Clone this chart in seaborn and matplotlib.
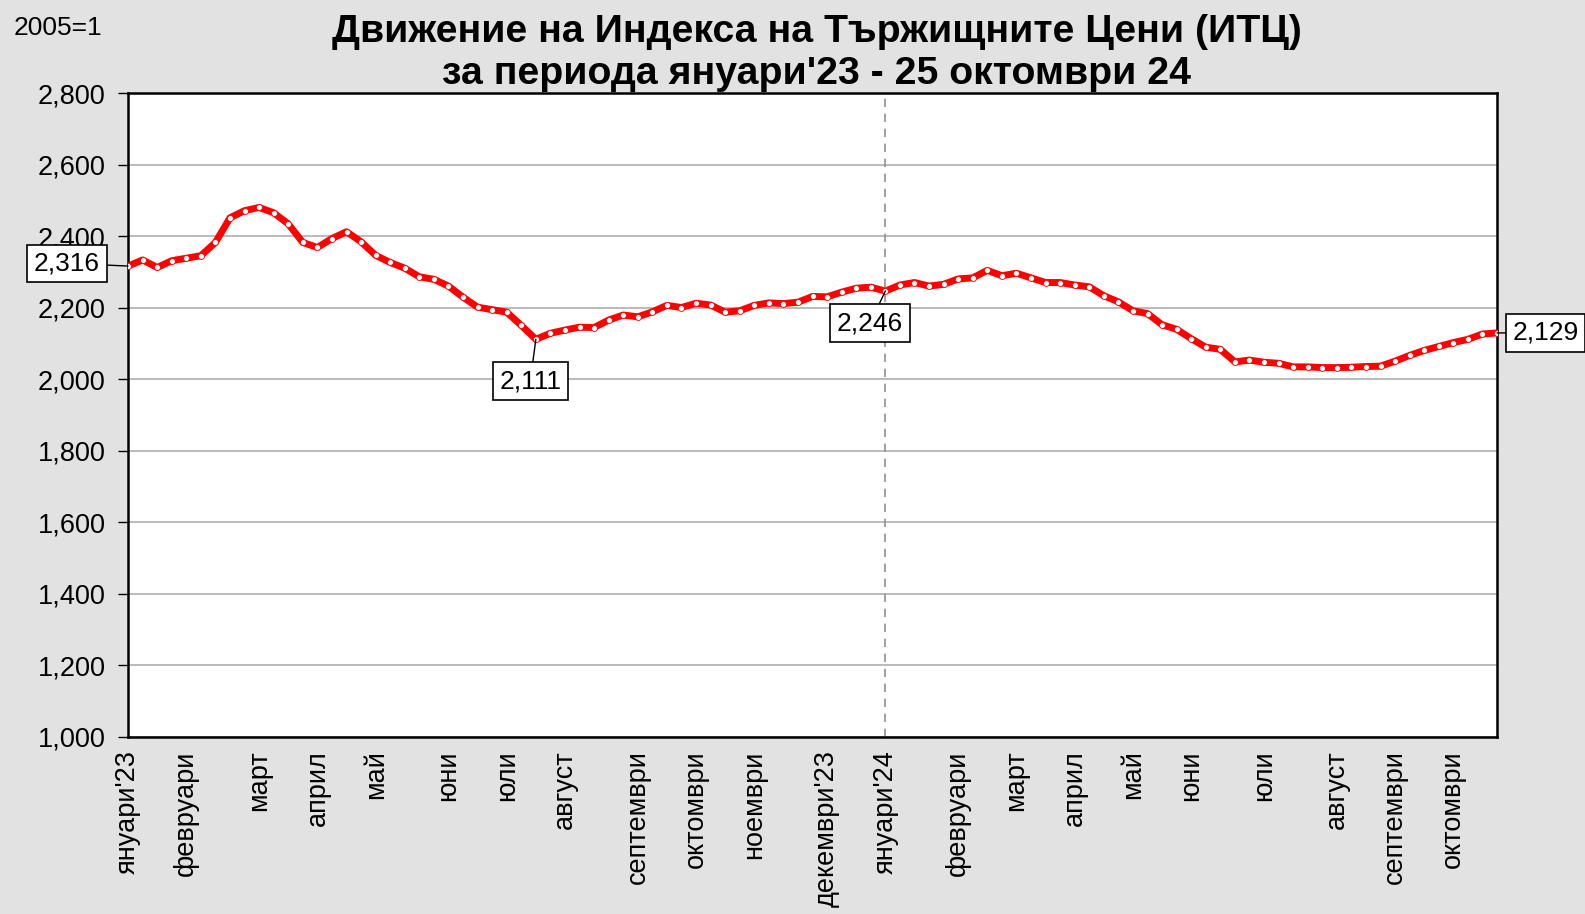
import numpy as np
import pandas as pd
import matplotlib
matplotlib.use("Agg")
import matplotlib.pyplot as plt
import seaborn as sns

# Седмични стойности на ИТЦ (2005=1), януари'23 - 25 октомври'24
itc_values = [
    2316, 2333, 2312, 2331, 2338, 2345, 2382, 2451, 2471, 2480,
    2465, 2434, 2382, 2368, 2393, 2412, 2384, 2346, 2326, 2310,
    2286, 2279, 2260, 2229, 2201, 2194, 2187, 2150, 2111, 2128,
    2137, 2145, 2144, 2165, 2179, 2174, 2188, 2206, 2200, 2212,
    2207, 2187, 2191, 2206, 2213, 2211, 2215, 2231, 2230, 2243,
    2254, 2257, 2246, 2263, 2270, 2260, 2265, 2280, 2283, 2304,
    2289, 2296, 2283, 2270, 2270, 2263, 2258, 2233, 2216, 2191,
    2183, 2152, 2139, 2113, 2089, 2083, 2048, 2053, 2047, 2044,
    2034, 2034, 2032, 2032, 2033, 2035, 2036, 2050, 2066, 2080,
    2091, 2102, 2111, 2126, 2129,
]
week = list(range(len(itc_values)))

month_pos = [0, 4, 9, 13, 17, 22, 26, 30, 35, 39, 43, 48,
             52, 57, 61, 65, 69, 73, 78, 83, 87, 91]
month_labels = ["януари'23", "февруари", "март", "април", "май", "юни",
                "юли", "август", "септември", "октомври", "ноември",
                "декември'23", "януари'24", "февруари", "март", "април",
                "май", "юни", "юли", "август", "септември", "октомври"]

# (индекс, текст, отместване в точки)
callouts = [(0, "2,316", (-44, 2)),
            (28, "2,111", (-4, -30)),
            (52, "2,246", (-11, -23)),
            (94, "2,129", (35, 0))]

df = pd.DataFrame({"week": week, "itc": itc_values})

sns.set_style("white")
plt.rcParams["font.family"] = ["Liberation Sans", "DejaVu Sans"]
plt.rcParams["text.color"] = "black"
plt.rcParams["xtick.color"] = "black"
plt.rcParams["ytick.color"] = "black"

fig = plt.figure(figsize=(15.85, 9.14), dpi=100)
fig.patch.set_facecolor("#e2e2e2")
ax = fig.add_axes([0.0808, 0.1942, 0.8637, 0.704])
ax.set_facecolor("white")

sns.lineplot(data=df, x="week", y="itc", ax=ax, color="#ff0000", lw=5,
             marker="o", markersize=4.3, markerfacecolor="white",
             markeredgecolor="#ff0000", markeredgewidth=0.6, zorder=3)

ax.axvline(52, color="#909090", lw=1.2, ls=(0, (5, 4)), zorder=2)

ax.set_xlim(0, 94)
ax.set_ylim(1000, 2800)
ax.set_yticks(np.arange(1000, 2801, 200))
ax.set_yticklabels([f"{v:,}" for v in range(1000, 2801, 200)])
ax.yaxis.grid(True, color="#a8a8a8", lw=1.1)
ax.set_xticks(month_pos)
ax.set_xticklabels(month_labels, rotation=90, va="top", ha="center")
ax.tick_params(axis="x", length=0, pad=10, labelsize=19.5)
ax.tick_params(axis="y", length=7, width=1, direction="out", pad=9,
               labelsize=19.5, left=True)
ax.set_xlabel("")
ax.set_ylabel("")
for s in ax.spines.values():
    s.set_visible(True)
    s.set_color("black")
    s.set_linewidth(1.8)

for idx, txt, off in callouts:
    ax.annotate(txt, xy=(idx, itc_values[idx]), xytext=off,
                textcoords="offset points", ha="center", va="center",
                fontsize=19, annotation_clip=False,
                bbox=dict(boxstyle="square,pad=0.25", fc="white",
                          ec="black", lw=1.2),
                arrowprops=dict(arrowstyle="-", color="black", lw=1,
                                shrinkA=0, shrinkB=0))

fig.text(817 / 1585, 1 - 53 / 914,
         "Движение на Индекса на Тържищните Цени (ИТЦ)\n"
         "за периода януари'23 - 25 октомври 24",
         ha="center", va="center", fontsize=28.3, fontweight="bold",
         linespacing=1.25)
fig.text(14 / 1585, 1 - 28 / 914, "2005=1", ha="left", va="center",
         fontsize=19)

fig.savefig("out.png", dpi=100, facecolor=fig.get_facecolor())
